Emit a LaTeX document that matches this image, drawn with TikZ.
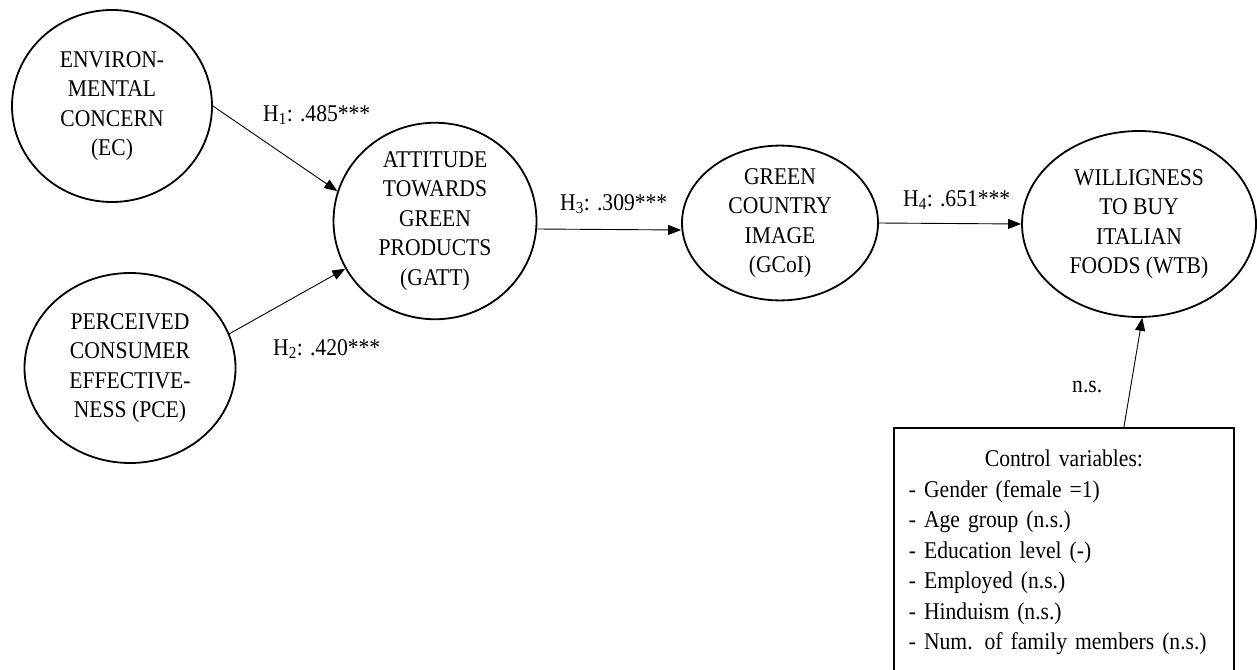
\documentclass[tikz,border=0pt]{standalone}
\usepackage{fontspec}
\setmainfont{Liberation Serif}[FakeStretch=0.9]
\usetikzlibrary{shapes.geometric,arrows.meta}
\begin{document}
\begin{tikzpicture}[x=1pt,y=-1pt,
  every node/.style={font=\fontsize{24}{29.5}\selectfont},
  latent/.style={draw, ellipse, line width=1.8pt, inner sep=0pt, align=center},
  pathline/.style={line width=0.9pt, -{Triangle[length=13pt,width=10pt]}},
  lbl/.style={inner sep=0pt, anchor=west},
  ctrlbox/.style={draw, line width=1.8pt, rectangle, inner sep=0pt}]
\useasboundingbox (0,0) rectangle (1257,669);
\clip (0,0) rectangle (1257,669);

\node[latent, minimum width=200pt, minimum height=192pt] (EC) at (112,106)
  {ENVIRON-\\MENTAL\\CONCERN\\(EC)};
\node[latent, minimum width=211pt, minimum height=190pt] (PCE) at (130,368)
  {PERCEIVED\\CONSUMER\\EFFECTIVE-\\NESS (PCE)};
\node[latent, minimum width=203pt, minimum height=183pt] (GATT) at (435,221)
  {ATTITUDE\\TOWARDS\\GREEN\\PRODUCTS\\(GATT)};
\node[latent, minimum width=196pt, minimum height=152pt] (GCoI) at (780,223)
  {GREEN\\COUNTRY\\IMAGE\\(GCoI)};
\node[latent, minimum width=234pt, minimum height=186pt] (WTB) at (1139,224)
  {WILLIGNESS\\TO BUY\\ITALIAN\\FOODS (WTB)};

\node[ctrlbox, anchor=north west, minimum width=340pt, minimum height=270pt] (ctrl) at (893,427) {};
\node[anchor=north, inner sep=0pt, text width=310pt, align=left,
      font=\fontsize{24}{30.5}\selectfont] (ctrltxt) at ([yshift=-23pt]ctrl.north)
  {\makebox[310pt][c]{Control variables:}\\
   - Gender (female =1)\\
   - Age group (n.s.)\\
   - Education level (-)\\
   - Employed (n.s.)\\
   - Hinduism (n.s.)\\
   - Num. of family members (n.s.)};

\draw[pathline] (EC.east) -- (GATT.163);
\draw[pathline] (PCE.19) -- (GATT.208);
\draw[pathline] ([yshift=-8pt]GATT.east) -- ([yshift=-7pt]GCoI.west);
\draw[pathline] (GCoI.east) -- (WTB.west);
\draw[pathline] ([xshift=60pt]ctrl.north) -- (WTB.-88);

\node[lbl] (h1) at (263,115) {H\textsubscript{1}: .485***};
\node[lbl] (h2) at (273,349) {H\textsubscript{2}: .420***};
\node[lbl] (h3) at (560,204) {H\textsubscript{3}: .309***};
\node[lbl] (h4) at (903,200) {H\textsubscript{4}: .651***};
\node[lbl] (ns) at (1072,387) {n.s.};
\end{tikzpicture}
\end{document}
